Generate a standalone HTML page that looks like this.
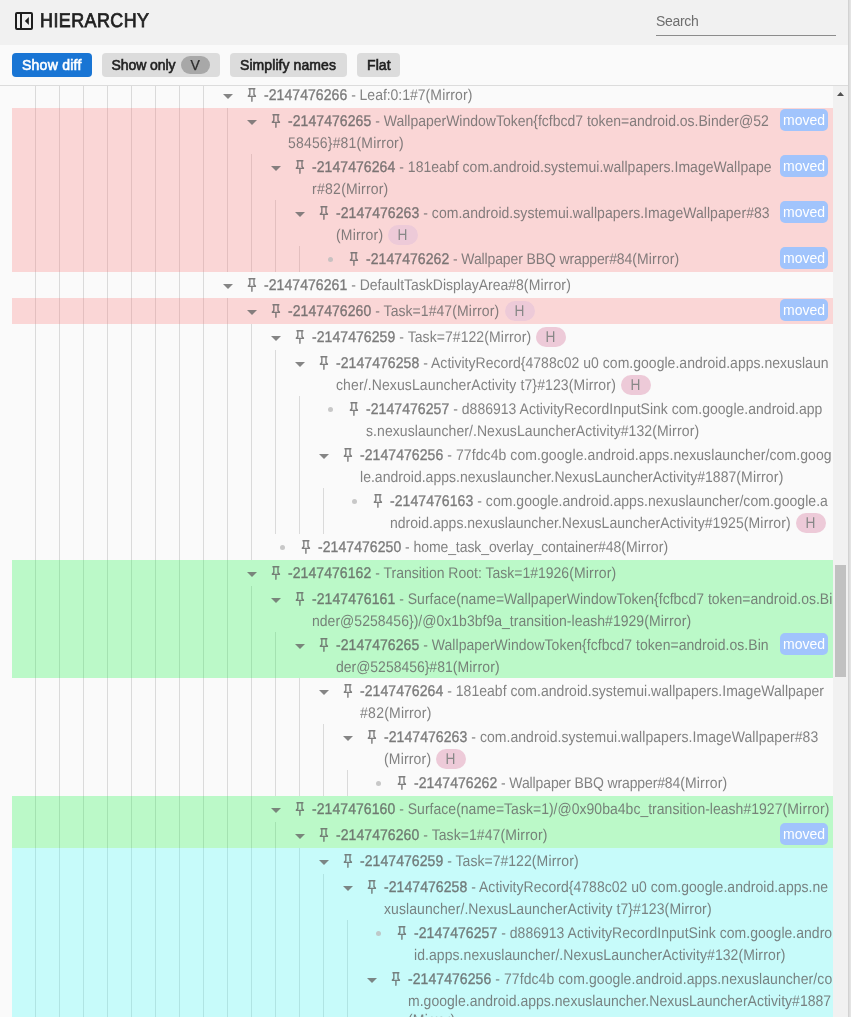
<!DOCTYPE html>
<html lang="en">
<head>
<meta charset="utf-8">
<title>Hierarchy</title>
<style>
*{box-sizing:border-box;margin:0;padding:0}
html,body{width:851px;height:1017px;overflow:hidden;background:#e5e5e5;font-family:"Liberation Sans",sans-serif;font-size:14px}
.panel{position:absolute;left:0;top:0;width:848px;height:1017px;background:#fafafa;overflow:hidden}
.edge{position:absolute;left:848px;top:0;width:3px;height:1017px;background:linear-gradient(to right,#d2d2d2 0,#d2d2d2 1px,#dedede 1px,#dedede 2px,#e4e4e4 2px,#e4e4e4 3px)}
.header{position:absolute;left:0;top:0;width:848px;height:45px;background:#f1f1f1}
.collapse-icon{position:absolute;left:12px;top:9px;fill:#1f1f1f}
.title{position:absolute;left:40px;top:9px;height:24px;line-height:24px;font-size:19.8px;font-weight:400;color:#1f1f1f;letter-spacing:.5px;white-space:nowrap;-webkit-text-stroke:0.8px #1f1f1f;text-rendering:geometricPrecision;transform:translateY(-.2px) scaleX(.905);transform-origin:0 0}
.search{position:absolute;left:656px;top:9px;width:180px;height:27px;border-bottom:1px solid #8c8c8c}
.placeholder{position:absolute;left:0;top:2px;line-height:20px;font-size:14px;color:#6e6e6e;letter-spacing:-0.3px}
.toolbar{position:absolute;left:0;top:45px;width:848px;height:40px}
.btn{position:absolute;top:8px;height:24px;border:0;border-radius:4px;background:#dcdcdc;color:#1f1f1f;font-family:inherit;font-size:14px;line-height:24px;white-space:nowrap;text-align:left;padding:0 10px;-webkit-text-stroke:0.6px currentColor;letter-spacing:.08px}
.btn.on{background:#1975d4;color:#fff;letter-spacing:.25px}
.vchip{letter-spacing:0;display:inline-block;position:absolute;left:79px;top:3px;width:29px;height:18px;border-radius:9px;background:#a8a8a8;color:#2c2c2c;text-align:center;line-height:18px;-webkit-text-stroke:0.25px #2c2c2c;text-indent:-.5px}
.divider{position:absolute;left:0;top:85px;width:848px;height:1px;background:#dcdcdc}
.tree{position:absolute;left:0;top:86px;width:833px;height:931px;overflow:hidden}
.tree>*{margin-top:-86px}
.row{position:absolute;left:12px;width:821px}
.row.red{background:rgba(250,120,120,.27)}
.row.green{background:rgba(17,246,65,.27)}
.row.cyan{background:rgba(61,254,250,.27)}
.row>*{margin-left:-12px}
.chev{position:absolute;top:2px;fill:rgba(104,104,104,.8)}
.pin{position:absolute;top:4px;fill:rgba(96,96,96,.8)}
.dot{position:absolute;top:11px;width:5px;height:5px;border-radius:50%;background:rgba(188,188,188,.8)}
.txt{position:absolute;top:2px;color:rgba(100,100,100,.8);white-space:nowrap}
.ln{height:22px;line-height:22px;white-space:pre}
.ln b{letter-spacing:.08px;font-weight:400;color:#5b5b5b;-webkit-text-stroke:0.36px #5b5b5b;opacity:.8}
.hchip{display:inline-block;vertical-align:top;margin-left:4.4px;letter-spacing:0;font-size:14px;margin-top:1px;width:30px;height:20px;border-radius:10px;background:#edcad8;color:#878787;text-align:center;line-height:20px}
.moved{position:absolute;left:780px;top:1px;width:48px;height:22px;border-radius:5px;background:#a1c4fc;color:#fff;text-align:center;line-height:22px}
.g{position:absolute;width:1px;background:#dadada}
.sb{position:absolute;left:833px;top:86px;width:15px;height:931px;background:#f1f1f1}
.sbup{position:absolute;left:4px;top:6px;fill:#505050}
.thumb{position:absolute;left:2px;top:479px;width:11px;height:112px;background:#c1c1c1}
.header,.toolbar,.tree{will-change:transform}
.m{letter-spacing:.19px}
.hchip i{display:inline-block;font-style:normal;font-size:15.6px;text-rendering:geometricPrecision;transform:translateX(-.3px) scaleX(.88)}
.ln.l3{margin-top:-3px}
.tx{display:inline-block;font-size:15.4px;text-rendering:geometricPrecision;transform:scaleX(.909);transform-origin:0 50%}
</style>
</head>
<body>
<div class="panel">
<div class="header">
<svg class="collapse-icon" viewBox="0 0 24 24" width="24" height="24"><path d="M5 3h14a2 2 0 0 1 2 2v14a2 2 0 0 1-2 2H5a2 2 0 0 1-2-2V5a2 2 0 0 1 2-2zm0 2v14h3V5H5zm5 0v14h9V5h-9zM16.85 8v8l-4-4z" fill-rule="evenodd"/></svg>
<h2 class="title">HIERARCHY</h2>
<div class="search"><span class="placeholder">Search</span></div>
</div>
<div class="toolbar">
<button class="btn on" style="left:12px;width:80px"><span>Show diff</span></button>
<button class="btn" style="left:102px;width:118px"><span class="so" style="letter-spacing:-.06px;margin-left:-.5px">Show only</span><span class="vchip">V</span></button>
<button class="btn" style="left:230px;width:117px"><span>Simplify names</span></button>
<button class="btn" style="left:357px;width:43px"><span>Flat</span></button>
</div>
<div class="divider"></div>
<div class="tree">
<i class="g" style="left:35px;top:86px;height:931px"></i><i class="g" style="left:59px;top:86px;height:931px"></i><i class="g" style="left:83px;top:86px;height:931px"></i><i class="g" style="left:107px;top:86px;height:931px"></i><i class="g" style="left:131px;top:86px;height:931px"></i><i class="g" style="left:155px;top:86px;height:931px"></i><i class="g" style="left:179px;top:86px;height:931px"></i><i class="g" style="left:203px;top:86px;height:931px"></i><i class="g" style="left:227px;top:108px;height:164px"></i><i class="g" style="left:227px;top:298px;height:719px"></i><i class="g" style="left:251px;top:154px;height:118px"></i><i class="g" style="left:251px;top:324px;height:236px"></i><i class="g" style="left:251px;top:586px;height:431px"></i><i class="g" style="left:275px;top:200px;height:72px"></i><i class="g" style="left:275px;top:350px;height:184px"></i><i class="g" style="left:275px;top:632px;height:164px"></i><i class="g" style="left:275px;top:822px;height:195px"></i><i class="g" style="left:299px;top:246px;height:26px"></i><i class="g" style="left:299px;top:396px;height:138px"></i><i class="g" style="left:299px;top:678px;height:118px"></i><i class="g" style="left:299px;top:848px;height:169px"></i><i class="g" style="left:323px;top:488px;height:46px"></i><i class="g" style="left:323px;top:724px;height:72px"></i><i class="g" style="left:323px;top:874px;height:143px"></i><i class="g" style="left:347px;top:770px;height:26px"></i><i class="g" style="left:347px;top:920px;height:97px"></i>
<div class="row " style="top:82px;height:26px"><svg class="chev" style="left:216px" viewBox="0 0 24 24" width="24" height="24"><path d="M7 10l5 5 5-5z"/></svg><svg class="pin" style="left:244px" viewBox="23 -961 983 983" width="17" height="17"><path d="m640-480 80 80v80H522v255l-42 25-42-25v-255H240v-80l80-80v-280h-40v-80h400v80h-40v280Zm-286 80h252l-46-46v-314H400v314l-46 46Zm126 0Z"/></svg><div class="txt" style="left:264px"><div class="ln"><span class="tx"><b>-2147476266</b><span style="letter-spacing:-0.031px"> - Leaf:0:1#7</span><span class="m">(Mirror)</span></span></div></div></div>
<div class="row red" style="top:108px;height:46px"><svg class="chev" style="left:240px" viewBox="0 0 24 24" width="24" height="24"><path d="M7 10l5 5 5-5z"/></svg><svg class="pin" style="left:268px" viewBox="23 -961 983 983" width="17" height="17"><path d="m640-480 80 80v80H522v255l-42 25-42-25v-255H240v-80l80-80v-280h-40v-80h400v80h-40v280Zm-286 80h252l-46-46v-314H400v314l-46 46Zm126 0Z"/></svg><div class="txt" style="left:288px"><div class="ln"><span class="tx"><b>-2147476265</b><span style="letter-spacing:-0.001px"> - WallpaperWindowToken{fcfbcd7 token=android.os.Binder@52</span></span></div><div class="ln"><span class="tx"><span style="letter-spacing:0.196px">58456}#81</span><span class="m">(Mirror)</span></span></div></div><span class="moved">moved</span></div>
<div class="row red" style="top:154px;height:46px"><svg class="chev" style="left:264px" viewBox="0 0 24 24" width="24" height="24"><path d="M7 10l5 5 5-5z"/></svg><svg class="pin" style="left:292px" viewBox="23 -961 983 983" width="17" height="17"><path d="m640-480 80 80v80H522v255l-42 25-42-25v-255H240v-80l80-80v-280h-40v-80h400v80h-40v280Zm-286 80h252l-46-46v-314H400v314l-46 46Zm126 0Z"/></svg><div class="txt" style="left:312px"><div class="ln"><span class="tx"><b>-2147476264</b><span style="letter-spacing:0.041px"> - 181eabf com.android.systemui.wallpapers.ImageWallpape</span></span></div><div class="ln"><span class="tx"><span style="letter-spacing:0.318px">r#82</span><span class="m">(Mirror)</span></span></div></div><span class="moved">moved</span></div>
<div class="row red" style="top:200px;height:46px"><svg class="chev" style="left:288px" viewBox="0 0 24 24" width="24" height="24"><path d="M7 10l5 5 5-5z"/></svg><svg class="pin" style="left:316px" viewBox="23 -961 983 983" width="17" height="17"><path d="m640-480 80 80v80H522v255l-42 25-42-25v-255H240v-80l80-80v-280h-40v-80h400v80h-40v280Zm-286 80h252l-46-46v-314H400v314l-46 46Zm126 0Z"/></svg><div class="txt" style="left:336px"><div class="ln"><span class="tx"><b>-2147476263</b><span style="letter-spacing:0.053px"> - com.android.systemui.wallpapers.ImageWallpaper#83</span></span></div><div class="ln"><span class="tx"><span class="m">(Mirror)</span></span><span class="hchip" style="margin-left:0.10px"><i>H</i></span></div></div><span class="moved">moved</span></div>
<div class="row red" style="top:246px;height:26px"><i class="dot" style="left:327.5px"></i><svg class="pin" style="left:346px" viewBox="23 -961 983 983" width="17" height="17"><path d="m640-480 80 80v80H522v255l-42 25-42-25v-255H240v-80l80-80v-280h-40v-80h400v80h-40v280Zm-286 80h252l-46-46v-314H400v314l-46 46Zm126 0Z"/></svg><div class="txt" style="left:366px"><div class="ln"><span class="tx"><b>-2147476262</b><span style="letter-spacing:-0.132px"> - Wallpaper BBQ wrapper#84</span><span class="m">(Mirror)</span></span></div></div><span class="moved">moved</span></div>
<div class="row " style="top:272px;height:26px"><svg class="chev" style="left:216px" viewBox="0 0 24 24" width="24" height="24"><path d="M7 10l5 5 5-5z"/></svg><svg class="pin" style="left:244px" viewBox="23 -961 983 983" width="17" height="17"><path d="m640-480 80 80v80H522v255l-42 25-42-25v-255H240v-80l80-80v-280h-40v-80h400v80h-40v280Zm-286 80h252l-46-46v-314H400v314l-46 46Zm126 0Z"/></svg><div class="txt" style="left:264px"><div class="ln"><span class="tx"><b>-2147476261</b><span style="letter-spacing:0.001px"> - DefaultTaskDisplayArea#8</span><span class="m">(Mirror)</span></span></div></div></div>
<div class="row red" style="top:298px;height:26px"><svg class="chev" style="left:240px" viewBox="0 0 24 24" width="24" height="24"><path d="M7 10l5 5 5-5z"/></svg><svg class="pin" style="left:268px" viewBox="23 -961 983 983" width="17" height="17"><path d="m640-480 80 80v80H522v255l-42 25-42-25v-255H240v-80l80-80v-280h-40v-80h400v80h-40v280Zm-286 80h252l-46-46v-314H400v314l-46 46Zm126 0Z"/></svg><div class="txt" style="left:288px"><div class="ln"><span class="tx"><b>-2147476260</b><span style="letter-spacing:0.061px"> - Task=1#47</span><span class="m">(Mirror)</span></span><span class="hchip" style="margin-left:-15.54px"><i>H</i></span></div></div><span class="moved">moved</span></div>
<div class="row " style="top:324px;height:26px"><svg class="chev" style="left:264px" viewBox="0 0 24 24" width="24" height="24"><path d="M7 10l5 5 5-5z"/></svg><svg class="pin" style="left:292px" viewBox="23 -961 983 983" width="17" height="17"><path d="m640-480 80 80v80H522v255l-42 25-42-25v-255H240v-80l80-80v-280h-40v-80h400v80h-40v280Zm-286 80h252l-46-46v-314H400v314l-46 46Zm126 0Z"/></svg><div class="txt" style="left:312px"><div class="ln"><span class="tx"><b>-2147476259</b><span style="letter-spacing:0.076px"> - Task=7#122</span><span class="m">(Mirror)</span></span><span class="hchip" style="margin-left:-17.35px"><i>H</i></span></div></div></div>
<div class="row " style="top:350px;height:46px"><svg class="chev" style="left:288px" viewBox="0 0 24 24" width="24" height="24"><path d="M7 10l5 5 5-5z"/></svg><svg class="pin" style="left:316px" viewBox="23 -961 983 983" width="17" height="17"><path d="m640-480 80 80v80H522v255l-42 25-42-25v-255H240v-80l80-80v-280h-40v-80h400v80h-40v280Zm-286 80h252l-46-46v-314H400v314l-46 46Zm126 0Z"/></svg><div class="txt" style="left:336px"><div class="ln"><span class="tx"><b>-2147476258</b><span style="letter-spacing:0.030px"> - ActivityRecord{4788c02 u0 com.google.android.apps.nexuslaun</span></span></div><div class="ln"><span class="tx"><span style="letter-spacing:0.129px">cher/.NexusLauncherActivity t7}#123</span><span class="m">(Mirror)</span></span><span class="hchip" style="margin-left:-22.96px"><i>H</i></span></div></div></div>
<div class="row " style="top:396px;height:46px"><i class="dot" style="left:327.5px"></i><svg class="pin" style="left:346px" viewBox="23 -961 983 983" width="17" height="17"><path d="m640-480 80 80v80H522v255l-42 25-42-25v-255H240v-80l80-80v-280h-40v-80h400v80h-40v280Zm-286 80h252l-46-46v-314H400v314l-46 46Zm126 0Z"/></svg><div class="txt" style="left:366px"><div class="ln"><span class="tx"><b>-2147476257</b><span style="letter-spacing:0.027px"> - d886913 ActivityRecordInputSink com.google.android.app</span></span></div><div class="ln"><span class="tx"><span style="letter-spacing:0.081px">s.nexuslauncher/.NexusLauncherActivity#132</span><span class="m">(Mirror)</span></span></div></div></div>
<div class="row " style="top:442px;height:46px"><svg class="chev" style="left:312px" viewBox="0 0 24 24" width="24" height="24"><path d="M7 10l5 5 5-5z"/></svg><svg class="pin" style="left:340px" viewBox="23 -961 983 983" width="17" height="17"><path d="m640-480 80 80v80H522v255l-42 25-42-25v-255H240v-80l80-80v-280h-40v-80h400v80h-40v280Zm-286 80h252l-46-46v-314H400v314l-46 46Zm126 0Z"/></svg><div class="txt" style="left:360px"><div class="ln"><span class="tx"><b>-2147476256</b><span style="letter-spacing:0.096px"> - 77fdc4b com.google.android.apps.nexuslauncher/com.goog</span></span></div><div class="ln"><span class="tx"><span style="letter-spacing:0.027px">le.android.apps.nexuslauncher.NexusLauncherActivity#1887</span><span class="m">(Mirror)</span></span></div></div></div>
<div class="row " style="top:488px;height:46px"><i class="dot" style="left:351.5px"></i><svg class="pin" style="left:370px" viewBox="23 -961 983 983" width="17" height="17"><path d="m640-480 80 80v80H522v255l-42 25-42-25v-255H240v-80l80-80v-280h-40v-80h400v80h-40v280Zm-286 80h252l-46-46v-314H400v314l-46 46Zm126 0Z"/></svg><div class="txt" style="left:390px"><div class="ln"><span class="tx"><b>-2147476163</b><span style="letter-spacing:0.048px"> - com.google.android.apps.nexuslauncher/com.google.a</span></span></div><div class="ln"><span class="tx"><span style="letter-spacing:0.029px">ndroid.apps.nexuslauncher.NexusLauncherActivity#1925</span><span class="m">(Mirror)</span></span><span class="hchip" style="margin-left:-35.01px"><i>H</i></span></div></div></div>
<div class="row " style="top:534px;height:26px"><i class="dot" style="left:279.5px"></i><svg class="pin" style="left:298px" viewBox="23 -961 983 983" width="17" height="17"><path d="m640-480 80 80v80H522v255l-42 25-42-25v-255H240v-80l80-80v-280h-40v-80h400v80h-40v280Zm-286 80h252l-46-46v-314H400v314l-46 46Zm126 0Z"/></svg><div class="txt" style="left:318px"><div class="ln"><span class="tx"><b>-2147476250</b><span style="letter-spacing:-0.085px"> - home_task_overlay_container#48</span><span class="m">(Mirror)</span></span></div></div></div>
<div class="row green" style="top:560px;height:26px"><svg class="chev" style="left:240px" viewBox="0 0 24 24" width="24" height="24"><path d="M7 10l5 5 5-5z"/></svg><svg class="pin" style="left:268px" viewBox="23 -961 983 983" width="17" height="17"><path d="m640-480 80 80v80H522v255l-42 25-42-25v-255H240v-80l80-80v-280h-40v-80h400v80h-40v280Zm-286 80h252l-46-46v-314H400v314l-46 46Zm126 0Z"/></svg><div class="txt" style="left:288px"><div class="ln"><span class="tx"><b>-2147476162</b><span style="letter-spacing:0.008px"> - Transition Root: Task=1#1926</span><span class="m">(Mirror)</span></span></div></div></div>
<div class="row green" style="top:586px;height:46px"><svg class="chev" style="left:264px" viewBox="0 0 24 24" width="24" height="24"><path d="M7 10l5 5 5-5z"/></svg><svg class="pin" style="left:292px" viewBox="23 -961 983 983" width="17" height="17"><path d="m640-480 80 80v80H522v255l-42 25-42-25v-255H240v-80l80-80v-280h-40v-80h400v80h-40v280Zm-286 80h252l-46-46v-314H400v314l-46 46Zm126 0Z"/></svg><div class="txt" style="left:312px"><div class="ln"><span class="tx"><b>-2147476161</b><span style="letter-spacing:0.023px"> - Surface(name=WallpaperWindowToken{fcfbcd7 token=android.os.Bi</span></span></div><div class="ln"><span class="tx"><span style="letter-spacing:0.027px">nder@5258456})/@0x1b3bf9a_transition-leash#1929</span><span class="m">(Mirror)</span></span></div></div></div>
<div class="row green" style="top:632px;height:46px"><svg class="chev" style="left:288px" viewBox="0 0 24 24" width="24" height="24"><path d="M7 10l5 5 5-5z"/></svg><svg class="pin" style="left:316px" viewBox="23 -961 983 983" width="17" height="17"><path d="m640-480 80 80v80H522v255l-42 25-42-25v-255H240v-80l80-80v-280h-40v-80h400v80h-40v280Zm-286 80h252l-46-46v-314H400v314l-46 46Zm126 0Z"/></svg><div class="txt" style="left:336px"><div class="ln"><span class="tx"><b>-2147476265</b><span style="letter-spacing:0.039px"> - WallpaperWindowToken{fcfbcd7 token=android.os.Bin</span></span></div><div class="ln"><span class="tx"><span style="letter-spacing:-0.018px">der@5258456}#81</span><span class="m">(Mirror)</span></span></div></div><span class="moved">moved</span></div>
<div class="row " style="top:678px;height:46px"><svg class="chev" style="left:312px" viewBox="0 0 24 24" width="24" height="24"><path d="M7 10l5 5 5-5z"/></svg><svg class="pin" style="left:340px" viewBox="23 -961 983 983" width="17" height="17"><path d="m640-480 80 80v80H522v255l-42 25-42-25v-255H240v-80l80-80v-280h-40v-80h400v80h-40v280Zm-286 80h252l-46-46v-314H400v314l-46 46Zm126 0Z"/></svg><div class="txt" style="left:360px"><div class="ln"><span class="tx"><b>-2147476264</b><span style="letter-spacing:0.034px"> - 181eabf com.android.systemui.wallpapers.ImageWallpaper</span></span></div><div class="ln"><span class="tx"><span style="letter-spacing:0.328px">#82</span><span class="m">(Mirror)</span></span></div></div></div>
<div class="row " style="top:724px;height:46px"><svg class="chev" style="left:336px" viewBox="0 0 24 24" width="24" height="24"><path d="M7 10l5 5 5-5z"/></svg><svg class="pin" style="left:364px" viewBox="23 -961 983 983" width="17" height="17"><path d="m640-480 80 80v80H522v255l-42 25-42-25v-255H240v-80l80-80v-280h-40v-80h400v80h-40v280Zm-286 80h252l-46-46v-314H400v314l-46 46Zm126 0Z"/></svg><div class="txt" style="left:384px"><div class="ln"><span class="tx"><b>-2147476263</b><span style="letter-spacing:0.066px"> - com.android.systemui.wallpapers.ImageWallpaper#83</span></span></div><div class="ln"><span class="tx"><span class="m">(Mirror)</span></span><span class="hchip" style="margin-left:0.10px"><i>H</i></span></div></div></div>
<div class="row " style="top:770px;height:26px"><i class="dot" style="left:375.5px"></i><svg class="pin" style="left:394px" viewBox="23 -961 983 983" width="17" height="17"><path d="m640-480 80 80v80H522v255l-42 25-42-25v-255H240v-80l80-80v-280h-40v-80h400v80h-40v280Zm-286 80h252l-46-46v-314H400v314l-46 46Zm126 0Z"/></svg><div class="txt" style="left:414px"><div class="ln"><span class="tx"><b>-2147476262</b><span style="letter-spacing:-0.131px"> - Wallpaper BBQ wrapper#84</span><span class="m">(Mirror)</span></span></div></div></div>
<div class="row green" style="top:796px;height:26px"><svg class="chev" style="left:264px" viewBox="0 0 24 24" width="24" height="24"><path d="M7 10l5 5 5-5z"/></svg><svg class="pin" style="left:292px" viewBox="23 -961 983 983" width="17" height="17"><path d="m640-480 80 80v80H522v255l-42 25-42-25v-255H240v-80l80-80v-280h-40v-80h400v80h-40v280Zm-286 80h252l-46-46v-314H400v314l-46 46Zm126 0Z"/></svg><div class="txt" style="left:312px"><div class="ln"><span class="tx"><b>-2147476160</b><span style="letter-spacing:0.024px"> - Surface(name=Task=1)/@0x90ba4bc_transition-leash#1927</span><span class="m">(Mirror)</span></span></div></div></div>
<div class="row green" style="top:822px;height:26px"><svg class="chev" style="left:288px" viewBox="0 0 24 24" width="24" height="24"><path d="M7 10l5 5 5-5z"/></svg><svg class="pin" style="left:316px" viewBox="23 -961 983 983" width="17" height="17"><path d="m640-480 80 80v80H522v255l-42 25-42-25v-255H240v-80l80-80v-280h-40v-80h400v80h-40v280Zm-286 80h252l-46-46v-314H400v314l-46 46Zm126 0Z"/></svg><div class="txt" style="left:336px"><div class="ln"><span class="tx"><b>-2147476260</b><span style="letter-spacing:0.083px"> - Task=1#47</span><span class="m">(Mirror)</span></span></div></div><span class="moved">moved</span></div>
<div class="row cyan" style="top:848px;height:26px"><svg class="chev" style="left:312px" viewBox="0 0 24 24" width="24" height="24"><path d="M7 10l5 5 5-5z"/></svg><svg class="pin" style="left:340px" viewBox="23 -961 983 983" width="17" height="17"><path d="m640-480 80 80v80H522v255l-42 25-42-25v-255H240v-80l80-80v-280h-40v-80h400v80h-40v280Zm-286 80h252l-46-46v-314H400v314l-46 46Zm126 0Z"/></svg><div class="txt" style="left:360px"><div class="ln"><span class="tx"><b>-2147476259</b><span style="letter-spacing:0.037px"> - Task=7#122</span><span class="m">(Mirror)</span></span></div></div></div>
<div class="row cyan" style="top:874px;height:46px"><svg class="chev" style="left:336px" viewBox="0 0 24 24" width="24" height="24"><path d="M7 10l5 5 5-5z"/></svg><svg class="pin" style="left:364px" viewBox="23 -961 983 983" width="17" height="17"><path d="m640-480 80 80v80H522v255l-42 25-42-25v-255H240v-80l80-80v-280h-40v-80h400v80h-40v280Zm-286 80h252l-46-46v-314H400v314l-46 46Zm126 0Z"/></svg><div class="txt" style="left:384px"><div class="ln"><span class="tx"><b>-2147476258</b><span style="letter-spacing:0.030px"> - ActivityRecord{4788c02 u0 com.google.android.apps.ne</span></span></div><div class="ln"><span class="tx"><span style="letter-spacing:0.097px">xuslauncher/.NexusLauncherActivity t7}#123</span><span class="m">(Mirror)</span></span></div></div></div>
<div class="row cyan" style="top:920px;height:46px"><i class="dot" style="left:375.5px"></i><svg class="pin" style="left:394px" viewBox="23 -961 983 983" width="17" height="17"><path d="m640-480 80 80v80H522v255l-42 25-42-25v-255H240v-80l80-80v-280h-40v-80h400v80h-40v280Zm-286 80h252l-46-46v-314H400v314l-46 46Zm126 0Z"/></svg><div class="txt" style="left:414px"><div class="ln"><span class="tx"><b>-2147476257</b><span style="letter-spacing:0.027px"> - d886913 ActivityRecordInputSink com.google.andro</span></span></div><div class="ln"><span class="tx"><span style="letter-spacing:0.074px">id.apps.nexuslauncher/.NexusLauncherActivity#132</span><span class="m">(Mirror)</span></span></div></div></div>
<div class="row cyan" style="top:966px;height:68px"><svg class="chev" style="left:360px" viewBox="0 0 24 24" width="24" height="24"><path d="M7 10l5 5 5-5z"/></svg><svg class="pin" style="left:388px" viewBox="23 -961 983 983" width="17" height="17"><path d="m640-480 80 80v80H522v255l-42 25-42-25v-255H240v-80l80-80v-280h-40v-80h400v80h-40v280Zm-286 80h252l-46-46v-314H400v314l-46 46Zm126 0Z"/></svg><div class="txt" style="left:408px"><div class="ln"><span class="tx"><b>-2147476256</b><span style="letter-spacing:0.091px"> - 77fdc4b com.google.android.apps.nexuslauncher/co</span></span></div><div class="ln"><span class="tx"><span style="letter-spacing:0.028px">m.google.android.apps.nexuslauncher.NexusLauncherActivity#1887</span></span></div><div class="ln l3"><span class="tx"><span class="m">(Mirror)</span></span></div></div></div>

</div>
<div class="sb"><svg class="sbup" viewBox="0 0 7 4" width="7" height="4"><path d="M0 4L3.5 0 7 4z"/></svg><div class="thumb"></div></div>
</div>
<div class="edge"></div>
</body>
</html>
